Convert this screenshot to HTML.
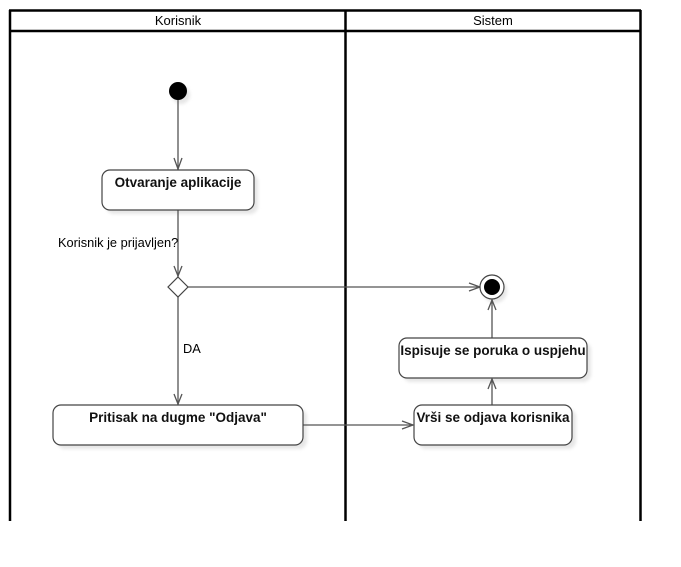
<!DOCTYPE html>
<html><head><style>body{margin:0;background:#fff}</style></head><body>
<svg width="681" height="562" xmlns="http://www.w3.org/2000/svg" font-family="Liberation Sans, sans-serif">
<defs><filter id="b"><feGaussianBlur stdDeviation="1.5"/></filter></defs>
<rect x="0" y="0" width="681" height="562" fill="#fff"/>
<g stroke="#000" stroke-width="2.5" fill="none">
<line x1="9" y1="10.5" x2="641" y2="10.5"/>
<line x1="9" y1="31" x2="641" y2="31"/>
<line x1="10" y1="10" x2="10" y2="521"/>
<line x1="345.5" y1="10" x2="345.5" y2="521"/>
<line x1="640.5" y1="10" x2="640.5" y2="521"/>
</g>
<text x="178" y="25" font-size="13" text-anchor="middle">Korisnik</text>
<text x="493" y="25" font-size="13" text-anchor="middle">Sistem</text>
<g fill="#e6e6e6" filter="url(#b)">
<circle cx="181" cy="95" r="9"/>
<rect x="106" y="174" width="152" height="40" rx="8"/>
<rect x="57" y="409" width="250" height="40" rx="8"/>
<rect x="418" y="409" width="158" height="40" rx="8"/>
<rect x="403" y="342" width="188" height="40" rx="8"/>
<circle cx="495" cy="291" r="12"/>
</g>
<g stroke="#555" stroke-width="1.3" fill="none">
<line x1="178" y1="100" x2="178" y2="170"/><polyline points="174,158 178,169 182,158"/>
<line x1="178" y1="210" x2="178" y2="277"/><polyline points="174,266 178,276 182,266"/>
<line x1="188" y1="287" x2="480" y2="287"/><polyline points="469,283 480,287 469,291"/>
<line x1="178" y1="297" x2="178" y2="405"/><polyline points="174,394 178,404 182,394"/>
<line x1="303" y1="425" x2="413" y2="425"/><polyline points="402,421 413,425 402,429"/>
<line x1="492" y1="405" x2="492" y2="379"/><polyline points="488,389 492,379 496,389"/>
<line x1="492" y1="338" x2="492" y2="300"/><polyline points="488,310 492,300 496,310"/>
</g>
<circle cx="178" cy="91" r="9" fill="#000"/>
<g fill="#fff" stroke="#444" stroke-width="1.2">
<rect x="102" y="170" width="152" height="40" rx="8"/>
<rect x="53" y="405" width="250" height="40" rx="8"/>
<rect x="414" y="405" width="158" height="40" rx="8"/>
<rect x="399" y="338" width="188" height="40" rx="8"/>
<polygon points="178,277 188,287 178,297 168,287"/>
<circle cx="492" cy="287" r="12"/>
</g>
<circle cx="492" cy="287" r="8" fill="#000"/>
<g font-size="13.5" font-weight="bold" text-anchor="middle" fill="#111">
<text x="178" y="187">Otvaranje aplikacije</text>
<text x="178" y="422">Pritisak na dugme "Odjava"</text>
<text x="493" y="422">Vrši se odjava korisnika</text>
<text x="493" y="355">Ispisuje se poruka o uspjehu</text>
</g>
<text x="58" y="247" font-size="12.8">Korisnik je prijavljen?</text>
<text x="183" y="353" font-size="12.8">DA</text>
</svg>
</body></html>
